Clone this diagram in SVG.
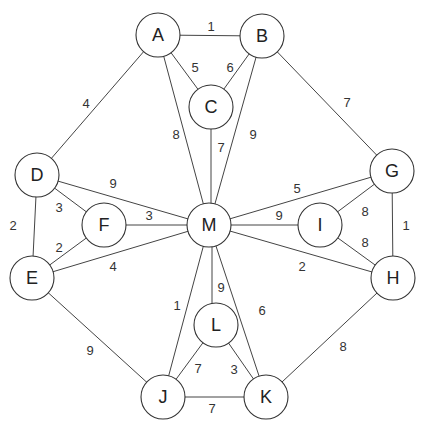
<svg xmlns="http://www.w3.org/2000/svg" width="425" height="432" viewBox="0 0 425 432">
<style>
.e line{stroke:#444;stroke-width:1}
.n circle{fill:#fff;stroke:#333;stroke-width:1.1}
.n text{font-family:"Liberation Sans",Arial,sans-serif;font-size:18px;fill:#222;text-anchor:middle;dominant-baseline:central}
.w{font-family:"Liberation Sans",Arial,sans-serif;font-size:13px;fill:#333;text-anchor:middle;dominant-baseline:central}
</style>
<rect width="425" height="432" fill="#fff"/>
<g id="connectors" class="e">
<line x1="158" y1="35" x2="262" y2="36"/>
<line x1="158" y1="35" x2="211" y2="107"/>
<line x1="262" y1="36" x2="211" y2="107"/>
<line x1="158" y1="35" x2="209" y2="225"/>
<line x1="262" y1="36" x2="209" y2="225"/>
<line x1="211" y1="107" x2="211" y2="225"/>
<line x1="158" y1="35" x2="37" y2="175"/>
<line x1="262" y1="36" x2="392" y2="171"/>
<line x1="37" y1="175" x2="32" y2="278"/>
<line x1="37" y1="175" x2="104" y2="225"/>
<line x1="37" y1="175" x2="209" y2="225"/>
<line x1="104" y1="225" x2="209" y2="225"/>
<line x1="32" y1="278" x2="104" y2="225"/>
<line x1="32" y1="278" x2="209" y2="225"/>
<line x1="392" y1="171" x2="209" y2="225"/>
<line x1="320" y1="225" x2="209" y2="225"/>
<line x1="393" y1="278" x2="209" y2="225"/>
<line x1="392" y1="171" x2="320" y2="225"/>
<line x1="393" y1="278" x2="320" y2="225"/>
<line x1="392" y1="171" x2="393" y2="278"/>
<line x1="32" y1="278" x2="163" y2="397"/>
<line x1="393" y1="278" x2="266" y2="397"/>
<line x1="163" y1="397" x2="209" y2="225"/>
<line x1="212" y1="225" x2="212" y2="310"/>
<line x1="266" y1="397" x2="209" y2="225"/>
<line x1="163" y1="397" x2="216" y2="325"/>
<line x1="216" y1="325" x2="266" y2="397"/>
<line x1="163" y1="397" x2="266" y2="397"/>
</g>
<g id="weights">
<text class="w" x="211" y="26">1</text>
<text class="w" x="195" y="67">5</text>
<text class="w" x="230" y="67">6</text>
<text class="w" x="176" y="134">8</text>
<text class="w" x="253" y="134">9</text>
<text class="w" x="221" y="147">7</text>
<text class="w" x="86" y="103">4</text>
<text class="w" x="347" y="102">7</text>
<text class="w" x="13" y="225">2</text>
<text class="w" x="113" y="183">9</text>
<text class="w" x="59" y="207">3</text>
<text class="w" x="149" y="215">3</text>
<text class="w" x="59" y="247">2</text>
<text class="w" x="113" y="266">4</text>
<text class="w" x="297" y="188">5</text>
<text class="w" x="279" y="215">9</text>
<text class="w" x="365" y="211">8</text>
<text class="w" x="365" y="242">8</text>
<text class="w" x="406" y="225">1</text>
<text class="w" x="302" y="266">2</text>
<text class="w" x="90" y="350">9</text>
<text class="w" x="343" y="346">8</text>
<text class="w" x="177" y="305">1</text>
<text class="w" x="221" y="287">9</text>
<text class="w" x="262" y="310">6</text>
<text class="w" x="198" y="368">7</text>
<text class="w" x="234" y="369">3</text>
<text class="w" x="212" y="408">7</text>
</g>
<g id="A" class="n"><circle cx="158" cy="35" r="22"/><text x="158" y="35">A</text></g>
<g id="B" class="n"><circle cx="262" cy="36" r="22"/><text x="262" y="36">B</text></g>
<g id="C" class="n"><circle cx="211" cy="107" r="22"/><text x="211" y="107">C</text></g>
<g id="D" class="n"><circle cx="37" cy="175" r="22"/><text x="37" y="175">D</text></g>
<g id="E" class="n"><circle cx="32" cy="278" r="22"/><text x="32" y="278">E</text></g>
<g id="F" class="n"><circle cx="104" cy="225" r="22"/><text x="104" y="225">F</text></g>
<g id="M" class="n"><circle cx="209" cy="225" r="22"/><text x="209" y="225">M</text></g>
<g id="G" class="n"><circle cx="392" cy="171" r="22"/><text x="392" y="171">G</text></g>
<g id="H" class="n"><circle cx="393" cy="278" r="22"/><text x="393" y="278">H</text></g>
<g id="I" class="n"><circle cx="320" cy="225" r="22"/><text x="320" y="225">I</text></g>
<g id="L" class="n"><circle cx="216" cy="325" r="22"/><text x="216" y="325">L</text></g>
<g id="J" class="n"><circle cx="163" cy="397" r="22"/><text x="163" y="397">J</text></g>
<g id="K" class="n"><circle cx="266" cy="397" r="22"/><text x="266" y="397">K</text></g>
</svg>
